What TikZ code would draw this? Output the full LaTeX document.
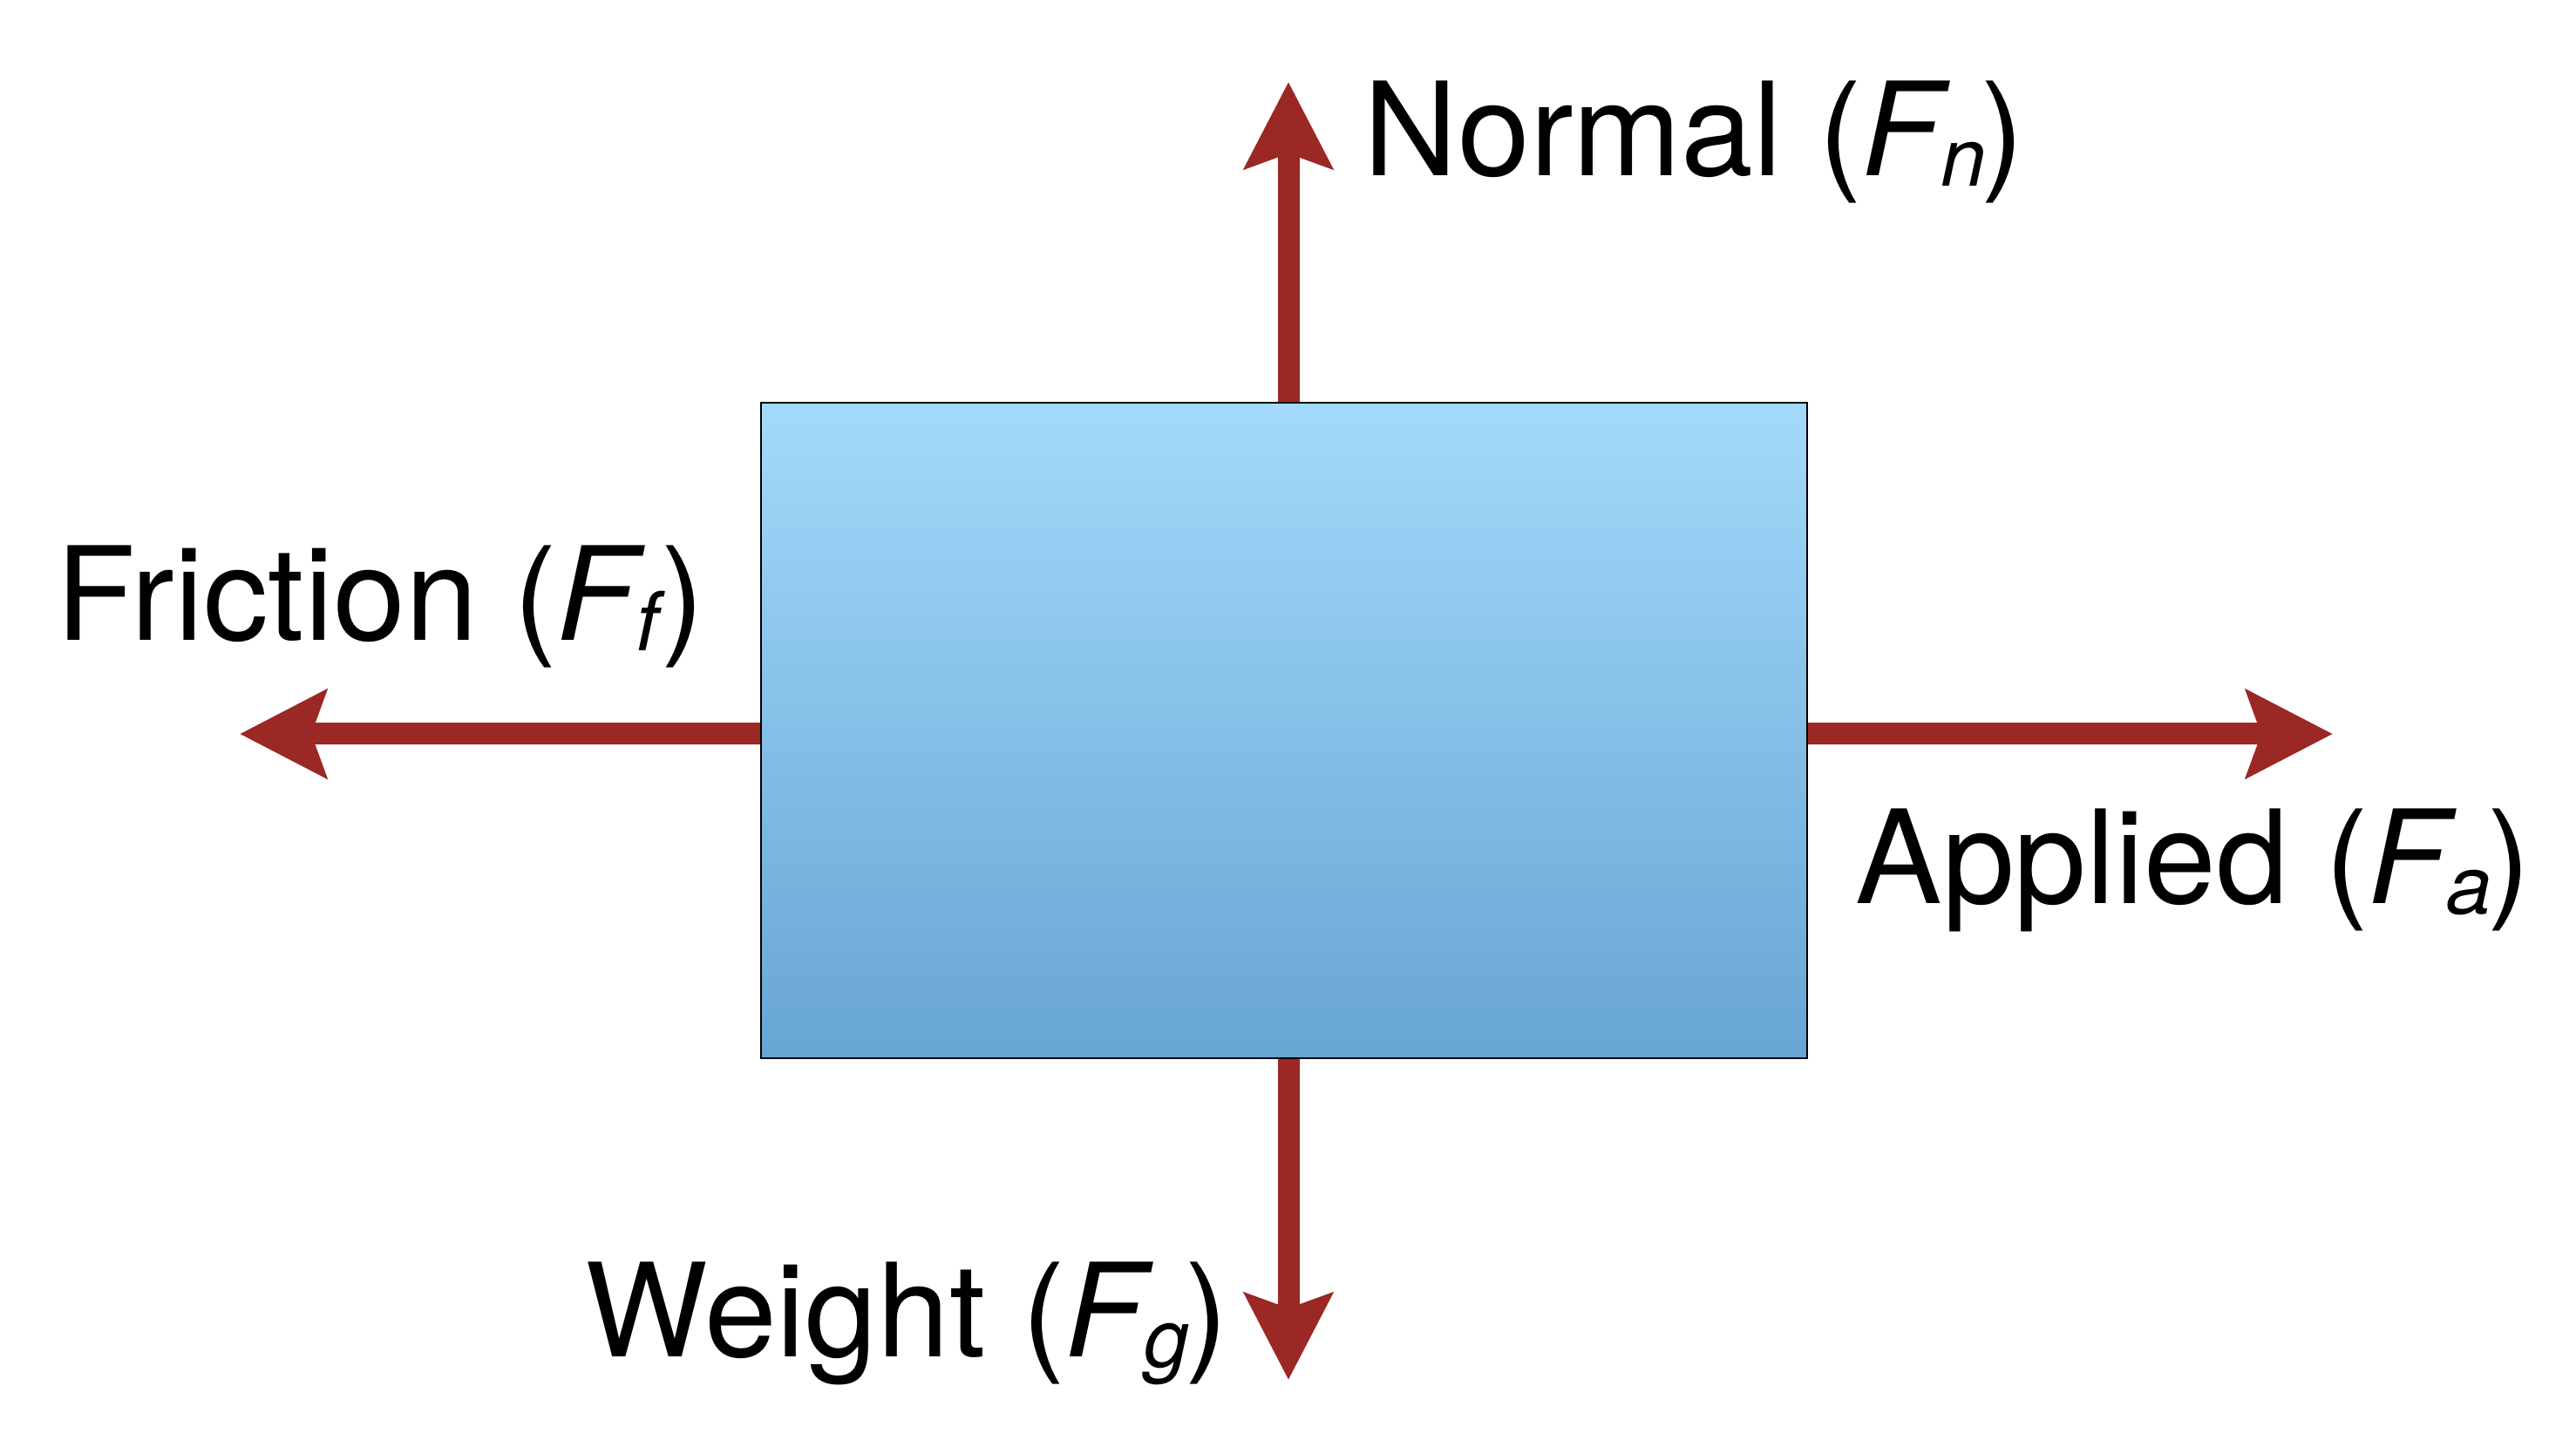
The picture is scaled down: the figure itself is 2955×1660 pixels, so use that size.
\documentclass[tikz,border=0pt]{standalone}
\usepackage{fontspec}
\setmainfont{TeX Gyre Heros}
\usetikzlibrary{arrows.meta}
\definecolor{forcered}{RGB}{155,40,36}
\definecolor{boxtop}{RGB}{163,217,251}
\definecolor{boxbot}{RGB}{103,165,211}
\newcommand{\forcelabel}[2]{#1 (\textit{F}\kern-3.5pt\raisebox{-0.075em}{\fontsize{28}{31}\selectfont\textit{#2}}\kern-1.5pt)}
\begin{document}
\begin{tikzpicture}[x=0.3pt,y=-0.3pt,
  force/.style={draw=forcered,line width=7.5pt,
    -{Stealth[length=29.7pt,width=30pt,inset=5.1pt,fill=forcered]}},
  lbl/.style={inner sep=0pt,anchor=base west,font=\fontsize{44.7}{50}\selectfont},
  body/.style={draw=black,line width=0.8pt,top color=boxtop,bottom color=boxbot,
    minimum width=360pt,minimum height=225.6pt,inner sep=0pt}]
\useasboundingbox (0,0) rectangle (2955,1660);
\node[body] (box) at (1473,838) {};
\coordinate (ntip) at (1478,94);
\coordinate (stip) at (1478,1583);
\coordinate (wtip) at (275,842);
\coordinate (etip) at (2676,842);
\draw[force] (box.north -| ntip) -- (ntip);
\draw[force] (box.south -| stip) -- (stip);
\draw[force] (box.west |- wtip) -- (wtip);
\draw[force] (box.east |- etip) -- (etip);
\node[lbl] (nl) at (1564,202) {\forcelabel{Normal}{n}};
\node[lbl] (fl) at (64,735) {\forcelabel{Friction}{f}};
\node[lbl] (al) at (2128,1037) {\forcelabel{Applied}{a}};
\node[lbl] (wl) at (671,1557) {\forcelabel{Weight}{g}};
\end{tikzpicture}
\end{document}
